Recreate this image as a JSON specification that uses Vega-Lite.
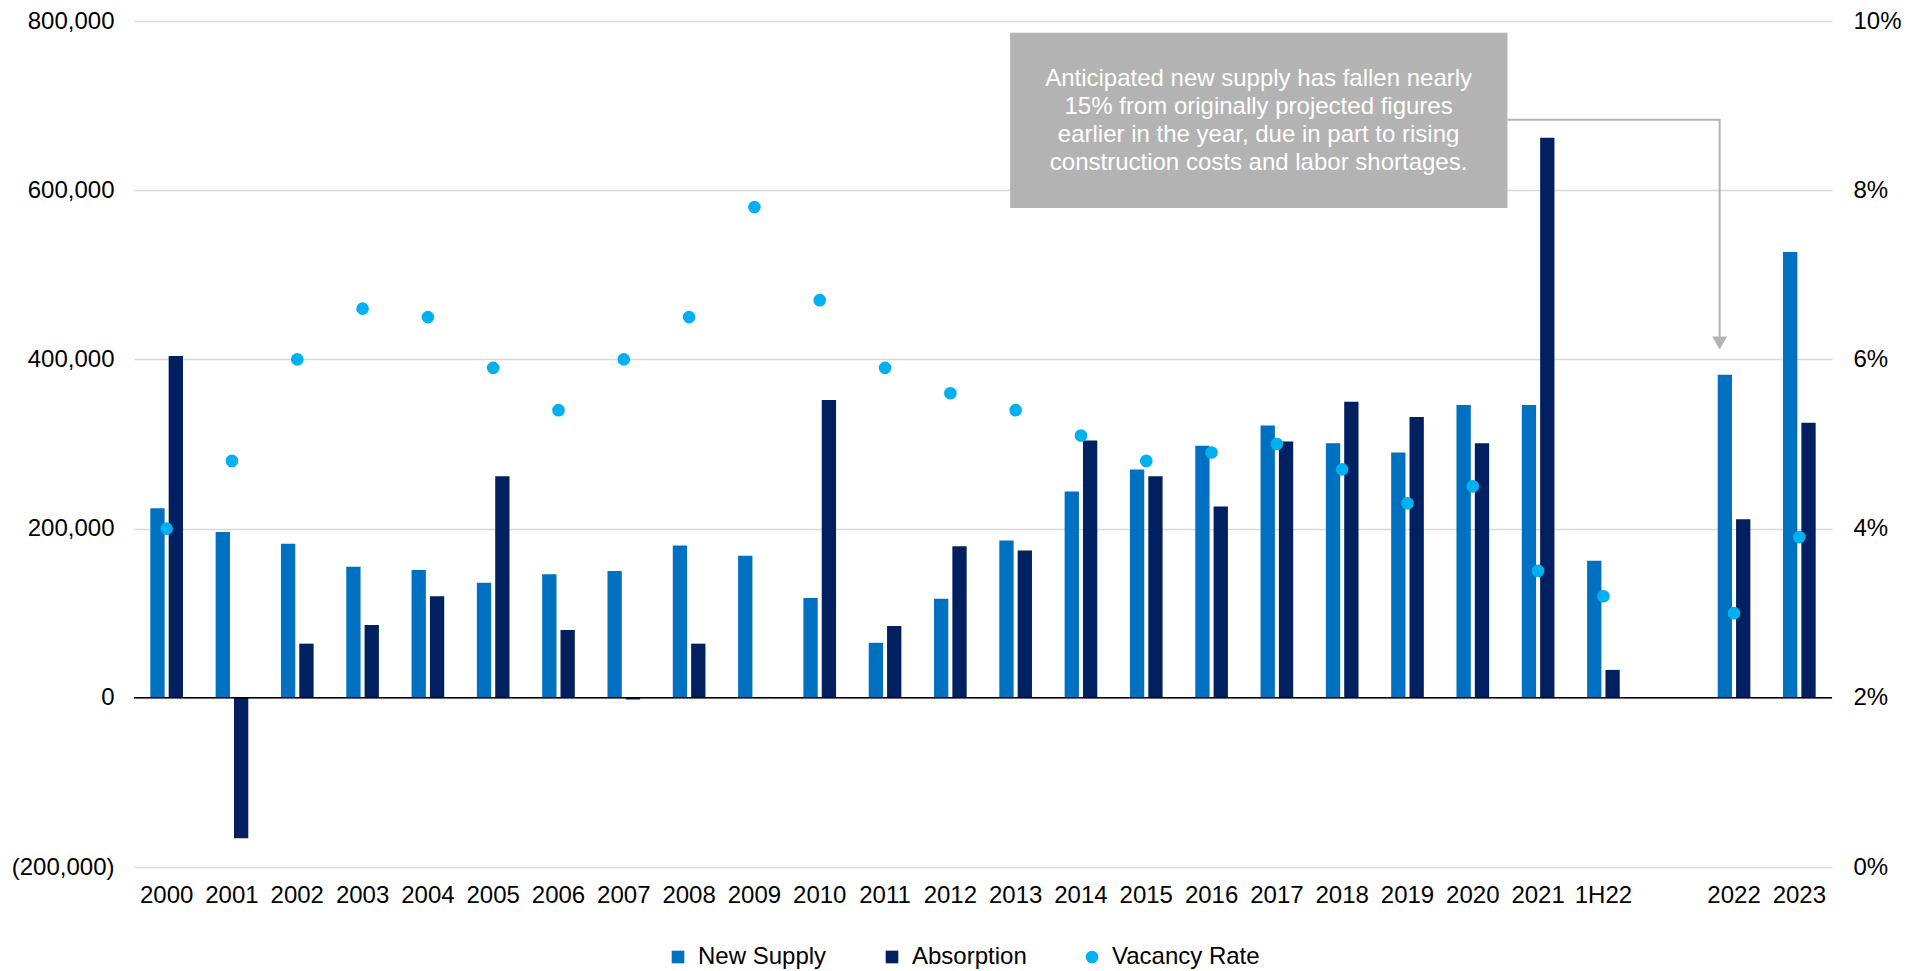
{
  "$schema": "https://vega.github.io/schema/vega-lite/v6.json",
  "width": 1698,
  "height": 846,
  "autosize": {"type": "none"},
  "padding": {"left": 134, "top": 21, "right": 91, "bottom": 104},
  "config": {
    "view": {"stroke": null},
    "font": "Liberation Sans",
    "axis": {"labelFont": "Liberation Sans", "labelFontSize": 24, "labelColor": "#000000", "ticks": false, "tickSize": 0, "domain": false, "title": null}
  },
  "datasets": {
    "main": [
      {"cat": "2000", "series": "New Supply", "value": 224000},
      {"cat": "2000", "series": "Absorption", "value": 404000},
      {"cat": "2000", "series": "Vacancy Rate", "value": 0.040},
      {"cat": "2001", "series": "New Supply", "value": 196000},
      {"cat": "2001", "series": "Absorption", "value": -166000},
      {"cat": "2001", "series": "Vacancy Rate", "value": 0.048},
      {"cat": "2002", "series": "New Supply", "value": 182000},
      {"cat": "2002", "series": "Absorption", "value": 64000},
      {"cat": "2002", "series": "Vacancy Rate", "value": 0.060},
      {"cat": "2003", "series": "New Supply", "value": 155000},
      {"cat": "2003", "series": "Absorption", "value": 86000},
      {"cat": "2003", "series": "Vacancy Rate", "value": 0.066},
      {"cat": "2004", "series": "New Supply", "value": 151000},
      {"cat": "2004", "series": "Absorption", "value": 120000},
      {"cat": "2004", "series": "Vacancy Rate", "value": 0.065},
      {"cat": "2005", "series": "New Supply", "value": 136000},
      {"cat": "2005", "series": "Absorption", "value": 262000},
      {"cat": "2005", "series": "Vacancy Rate", "value": 0.059},
      {"cat": "2006", "series": "New Supply", "value": 146000},
      {"cat": "2006", "series": "Absorption", "value": 80000},
      {"cat": "2006", "series": "Vacancy Rate", "value": 0.054},
      {"cat": "2007", "series": "New Supply", "value": 150000},
      {"cat": "2007", "series": "Absorption", "value": -2000},
      {"cat": "2007", "series": "Vacancy Rate", "value": 0.060},
      {"cat": "2008", "series": "New Supply", "value": 180000},
      {"cat": "2008", "series": "Absorption", "value": 64000},
      {"cat": "2008", "series": "Vacancy Rate", "value": 0.065},
      {"cat": "2009", "series": "New Supply", "value": 168000},
      {"cat": "2009", "series": "Absorption", "value": 1000},
      {"cat": "2009", "series": "Vacancy Rate", "value": 0.078},
      {"cat": "2010", "series": "New Supply", "value": 118000},
      {"cat": "2010", "series": "Absorption", "value": 352000},
      {"cat": "2010", "series": "Vacancy Rate", "value": 0.067},
      {"cat": "2011", "series": "New Supply", "value": 65000},
      {"cat": "2011", "series": "Absorption", "value": 85000},
      {"cat": "2011", "series": "Vacancy Rate", "value": 0.059},
      {"cat": "2012", "series": "New Supply", "value": 117000},
      {"cat": "2012", "series": "Absorption", "value": 179000},
      {"cat": "2012", "series": "Vacancy Rate", "value": 0.056},
      {"cat": "2013", "series": "New Supply", "value": 186000},
      {"cat": "2013", "series": "Absorption", "value": 174000},
      {"cat": "2013", "series": "Vacancy Rate", "value": 0.054},
      {"cat": "2014", "series": "New Supply", "value": 244000},
      {"cat": "2014", "series": "Absorption", "value": 304000},
      {"cat": "2014", "series": "Vacancy Rate", "value": 0.051},
      {"cat": "2015", "series": "New Supply", "value": 270000},
      {"cat": "2015", "series": "Absorption", "value": 262000},
      {"cat": "2015", "series": "Vacancy Rate", "value": 0.048},
      {"cat": "2016", "series": "New Supply", "value": 298000},
      {"cat": "2016", "series": "Absorption", "value": 226000},
      {"cat": "2016", "series": "Vacancy Rate", "value": 0.049},
      {"cat": "2017", "series": "New Supply", "value": 322000},
      {"cat": "2017", "series": "Absorption", "value": 303000},
      {"cat": "2017", "series": "Vacancy Rate", "value": 0.050},
      {"cat": "2018", "series": "New Supply", "value": 301000},
      {"cat": "2018", "series": "Absorption", "value": 350000},
      {"cat": "2018", "series": "Vacancy Rate", "value": 0.047},
      {"cat": "2019", "series": "New Supply", "value": 290000},
      {"cat": "2019", "series": "Absorption", "value": 332000},
      {"cat": "2019", "series": "Vacancy Rate", "value": 0.043},
      {"cat": "2020", "series": "New Supply", "value": 346000},
      {"cat": "2020", "series": "Absorption", "value": 301000},
      {"cat": "2020", "series": "Vacancy Rate", "value": 0.045},
      {"cat": "2021", "series": "New Supply", "value": 346000},
      {"cat": "2021", "series": "Absorption", "value": 662000},
      {"cat": "2021", "series": "Vacancy Rate", "value": 0.035},
      {"cat": "1H22", "series": "New Supply", "value": 162000},
      {"cat": "1H22", "series": "Absorption", "value": 33000},
      {"cat": "1H22", "series": "Vacancy Rate", "value": 0.032},
      {"cat": "2022", "series": "New Supply", "value": 382000},
      {"cat": "2022", "series": "Absorption", "value": 211000},
      {"cat": "2022", "series": "Vacancy Rate", "value": 0.030},
      {"cat": "2023", "series": "New Supply", "value": 527000},
      {"cat": "2023", "series": "Absorption", "value": 325000},
      {"cat": "2023", "series": "Vacancy Rate", "value": 0.039}
    ],
    "box": [{"x1": 13.415, "x2": 21.03, "y1": 579000, "y2": 786000}],
    "note": [{"x": 17.22, "y": 731700, "text": ["Anticipated new supply has fallen nearly", "15% from originally projected figures", "earlier in the year, due in part to rising", "construction costs and labor shortages."]}],
    "arrow": [
      {"x": 21.03, "y": 683200, "o": 1},
      {"x": 24.28, "y": 683200, "o": 2},
      {"x": 24.28, "y": 425000, "o": 3}
    ],
    "head": [{"x": 24.28, "y": 419300}],
    "zero": [{"y": 0}]
  },
  "layer": [
    {
      "data": {"name": "box"},
      "mark": {"type": "rect", "color": "#b3b3b3"},
      "encoding": {
        "x": {"field": "x1", "type": "quantitative", "scale": {"domain": [0, 26], "nice": false, "zero": false}, "axis": null},
        "x2": {"field": "x2"},
        "y": {"field": "y1", "type": "quantitative", "scale": {"domain": [-200000, 800000], "nice": false, "zero": false}, "axis": null},
        "y2": {"field": "y2"}
      }
    },
    {
      "data": {"name": "arrow"},
      "mark": {"type": "line", "color": "#b3b3b3", "strokeWidth": 2},
      "encoding": {
        "x": {"field": "x", "type": "quantitative", "scale": {"domain": [0, 26], "nice": false, "zero": false}, "axis": null},
        "y": {"field": "y", "type": "quantitative", "scale": {"domain": [-200000, 800000], "nice": false, "zero": false}, "axis": null},
        "order": {"field": "o", "type": "quantitative"}
      }
    },
    {
      "data": {"name": "head"},
      "mark": {"type": "point", "shape": "triangle-down", "filled": true, "size": 225, "color": "#b3b3b3", "opacity": 1},
      "encoding": {
        "x": {"field": "x", "type": "quantitative", "scale": {"domain": [0, 26], "nice": false, "zero": false}, "axis": null},
        "y": {"field": "y", "type": "quantitative", "scale": {"domain": [-200000, 800000], "nice": false, "zero": false}, "axis": null}
      }
    },
    {
      "data": {"name": "note"},
      "mark": {"type": "text", "color": "#ffffff", "fontSize": 24, "font": "Liberation Sans", "align": "center", "baseline": "middle", "lineHeight": 28},
      "encoding": {
        "x": {"field": "x", "type": "quantitative", "scale": {"domain": [0, 26], "nice": false, "zero": false}, "axis": null},
        "y": {"field": "y", "type": "quantitative", "scale": {"domain": [-200000, 800000], "nice": false, "zero": false}, "axis": null},
        "text": {"field": "text"}
      }
    },
    {
      "data": {"name": "main"},
      "transform": [{"filter": "datum.series !== 'Vacancy Rate'"}],
      "mark": {"type": "bar"},
      "encoding": {
        "x": {
          "field": "cat", "type": "nominal",
          "scale": {"domain": ["2000","2001","2002","2003","2004","2005","2006","2007","2008","2009","2010","2011","2012","2013","2014","2015","2016","2017","2018","2019","2020","2021","1H22"," ","2022","2023"], "paddingInner": 0.5, "paddingOuter": 0.25},
          "axis": {"labelAngle": 0, "labelPadding": 16, "grid": false, "labelAlign": "center"}
        },
        "xOffset": {"field": "series", "type": "nominal", "scale": {"domain": ["New Supply", "Absorption"], "paddingInner": 0.22, "paddingOuter": 0}},
        "y": {
          "field": "value", "type": "quantitative",
          "scale": {"domain": [-200000, 800000], "nice": false, "zero": false},
          "axis": {"values": [-200000, 0, 200000, 400000, 600000, 800000], "grid": true, "gridColor": "#d9d9d9", "gridWidth": 1.3, "labelPadding": 20, "labelExpr": "datum.value < 0 ? '(' + format(-datum.value, ',') + ')' : format(datum.value, ',')"}
        },
        "color": {
          "field": "series", "type": "nominal",
          "scale": {"domain": ["New Supply", "Absorption", "Vacancy Rate"], "range": ["#0070C0", "#002060", "#00B0F0"]},
          "legend": {"orient": "none", "legendX": 532, "legendY": 924, "direction": "horizontal", "title": null, "labelFontSize": 24, "labelFont": "Liberation Sans", "labelColor": "#000000", "symbolSize": 160, "symbolType": "square", "symbolStrokeWidth": 0, "labelOffset": 8, "columnPadding": 53,
            "encode": {"symbols": {"update": {"shape": {"signal": "datum.value === 'Vacancy Rate' ? 'circle' : 'square'"}}}}}
        }
      }
    },
    {
      "data": {"name": "zero"},
      "mark": {"type": "rule", "color": "#000000", "strokeWidth": 1.5},
      "encoding": {
        "y": {"field": "y", "type": "quantitative", "scale": {"domain": [-200000, 800000], "nice": false, "zero": false}, "axis": null}
      }
    },
    {
      "data": {"name": "main"},
      "transform": [{"filter": "datum.series === 'Vacancy Rate'"}],
      "mark": {"type": "point", "filled": true, "size": 160, "opacity": 1},
      "encoding": {
        "x": {
          "field": "cat", "type": "nominal",
          "scale": {"domain": ["2000","2001","2002","2003","2004","2005","2006","2007","2008","2009","2010","2011","2012","2013","2014","2015","2016","2017","2018","2019","2020","2021","1H22"," ","2022","2023"], "paddingInner": 0.5, "paddingOuter": 0.25},
          "axis": null
        },
        "y": {
          "field": "value", "type": "quantitative",
          "scale": {"domain": [0, 0.1], "nice": false, "zero": false},
          "axis": {"orient": "right", "values": [0, 0.02, 0.04, 0.06, 0.08, 0.1], "format": ".0%", "grid": false, "labelAlign": "left", "labelPadding": 21}
        },
        "color": {
          "field": "series", "type": "nominal",
          "scale": {"domain": ["New Supply", "Absorption", "Vacancy Rate"], "range": ["#0070C0", "#002060", "#00B0F0"]},
          "legend": {"orient": "none", "legendX": 532, "legendY": 924, "direction": "horizontal", "title": null, "labelFontSize": 24, "labelFont": "Liberation Sans", "labelColor": "#000000", "symbolSize": 160, "symbolType": "square", "symbolStrokeWidth": 0, "labelOffset": 8, "columnPadding": 53,
            "encode": {"symbols": {"update": {"shape": {"signal": "datum.value === 'Vacancy Rate' ? 'circle' : 'square'"}}}}}
        }
      }
    }
  ],
  "resolve": {"scale": {"x": "independent", "y": "independent"}}
}
